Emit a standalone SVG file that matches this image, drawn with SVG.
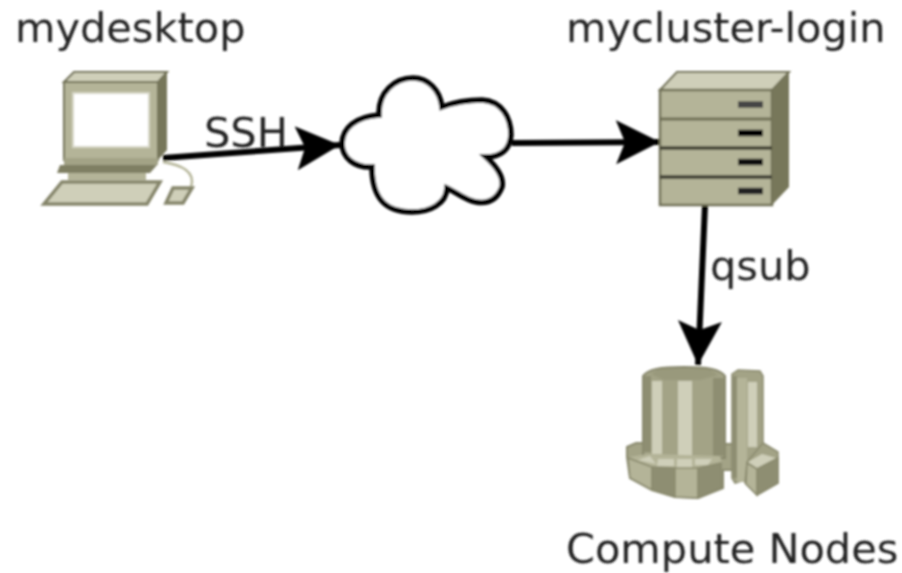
<svg xmlns="http://www.w3.org/2000/svg" width="902" height="573" viewBox="0 0 902 573">
<defs>
<filter id="soft" x="-5%" y="-5%" width="110%" height="110%"><feGaussianBlur stdDeviation="1"/></filter>
<marker id="arrow" markerUnits="userSpaceOnUse" markerWidth="46" markerHeight="48" refX="44" refY="24" orient="auto"><path d="M0,2 L44,24 L0,46 L9,24 Z" fill="#000"/></marker>
</defs>
<style>
.t{font-family:"DejaVu Sans",sans-serif;font-size:41.500px;fill:#222}
.f{fill:#b4b498}.l{fill:#cfcfb9}.d{fill:#8e8e72}.m{fill:#a3a386}.e{stroke:#6f6f55;stroke-width:2}
.c{fill:none;stroke:#000;stroke-width:6}
.s{stroke:#8a8a6e;stroke-width:1.500}
</style>
<rect width="902" height="573" fill="#fff"/>
<g filter="url(#soft)">
<g id="connectors">
<path class="c" d="M163,158 L340,145" marker-end="url(#arrow)"/>
<path class="c" d="M512,143 L660,142" marker-end="url(#arrow)"/>
<path class="c" d="M705,205 L698,365" marker-end="url(#arrow)"/>
</g>
<g id="mydesktop">
<path class="l e" d="M64,82 L74,72 L167,72 L158,82 Z"/>
<path class="f e" d="M64,82 H158 V160 H64 Z"/>
<path d="M158,82 L167,72 V150 L158,160 Z" fill="#77775a"/>
<rect x="73" y="93" width="76" height="54" fill="#fff" stroke="#d5d5c4" stroke-width="2"/>
<path class="m" d="M64,158 H158 V165 H64 Z"/>
<path d="M60,165 H157 L150,173 H57 Z" fill="#7f7f64"/>
<path class="f" d="M68,173 H146 V180 H68 Z"/>
<path class="l" d="M62,182 H160 L147,204 H44 Z" stroke="#85856a" stroke-width="3.500"/>
<path d="M163,162 C182,165 196,172 191,187" fill="none" stroke="#b7b79b" stroke-width="2.500"/>
<path class="l" d="M173,188 H192 L183,203 H166 Z" stroke="#85856a" stroke-width="3.500"/>
<text class="t" x="15" y="42">mydesktop</text>
</g>
<g id="cloud">
<path d="M379,115 C378,92 395,78 413,78 C428,78 440,90 442,107 C455,102 470,100 482,100 C502,101 511,118 511,135 C510,150 500,157 486,157 C498,168 504,178 502,187 C497,200 488,204 476,202 C465,200 456,192 447,188 C446,204 430,212 412,212 C392,212 372,205 372,167 C355,168 342,158 342,143 C343,128 355,117 379,115 Z" fill="#fff" stroke="#000" stroke-width="5.500"/>
</g>
<g id="mycluster-login">
<path class="l e" d="M660,90 L677,72 H789 L772,90 Z"/>
<path class="f" d="M660,90 H772 V205 H660 Z" stroke="#6f6f55" stroke-width="2.500"/>
<path d="M772,90 L789,72 V187 L772,205 Z" fill="#77775a"/>
<path d="M660,119 H772" stroke="#6f6f55" stroke-width="3"/>
<path d="M660,148 H772" stroke="#3f3f30" stroke-width="3.500"/>
<path d="M660,177 H772" stroke="#4a4a3a" stroke-width="4"/>
<g stroke-width="6.500">
<path d="M738,104.500 H763" stroke="#444"/>
<path d="M738,133 H763" stroke="#000"/>
<path d="M738,162 H763" stroke="#111"/>
<path d="M738,191 H763" stroke="#222"/>
</g>
<text class="t" x="566" y="42">mycluster-login</text>
</g>
<g id="compute-nodes">
<path class="m" d="M627,457 V447 L636,443 H660 V455 H723 V444 H740 V470 H723 V488 L698,498 L675,497 L652,490 L630,478 Z" stroke="#8a8a6e" stroke-width="2"/>
<path class="m" d="M643,376 C648,369 660,367 684,367 C708,367 720,369 725,376 V458 H643 Z" stroke="#85856a" stroke-width="2"/>
<path class="d" d="M643,376 H651 V452 H643 Z"/>
<path class="l" d="M652,381 H662 V454 H652 Z"/>
<path class="l" d="M678,381 H692 V458 H678 Z"/>
<path class="d" d="M713,378 H725 V456 H713 Z"/>
<path class="d" d="M651,374 L660,368 H708 L718,375 L700,380 H664 Z" opacity="0.45"/>
<path class="f" d="M629,457 L648,454 L720,456 L722,463 L698,468 H675 L652,467 Z"/>
<path class="l" d="M638,460 L650,456 L656,464 Z M658,459 H674 V466 H657 Z M677,459 H692 V468 H677 Z M695,459 H712 L708,465 H695 Z"/>
<path class="f s" d="M628,458 L652,467 V490 L630,478 Z"/>
<path class="d s" d="M652,467 L675,468 V497 L652,490 Z"/>
<path class="f s" d="M675,468 H698 V498 L675,497 Z"/>
<path class="d s" d="M698,468 L721,463 V488 L698,498 Z"/>
<path class="m s" d="M732,374 L738,370 L760,371 L763,376 V447 L745,480 L735,483 L732,478 Z"/>
<path class="d" d="M732,376 H737 V478 H732 Z"/>
<path class="f" d="M737,378 H747 V482 H737 Z"/>
<path class="l" d="M748,382 H757 V447 H748 Z"/>
<path class="m s" d="M763,443 L778,452 V483 L757,495 L745,483 L747,462 Z"/>
<path class="l" d="M748,462 L762,454 L776,458 L757,468 Z"/>
<path class="f s" d="M747,463 L757,469 V495 L746,484 Z"/>
<path class="d s" d="M757,469 L778,458 V483 L757,495 Z"/>
<text class="t" x="566" y="563">Compute Nodes</text>
</g>
<text class="t" x="204" y="147">SSH</text>
<text class="t" x="710" y="280">qsub</text>
</g>
</svg>
